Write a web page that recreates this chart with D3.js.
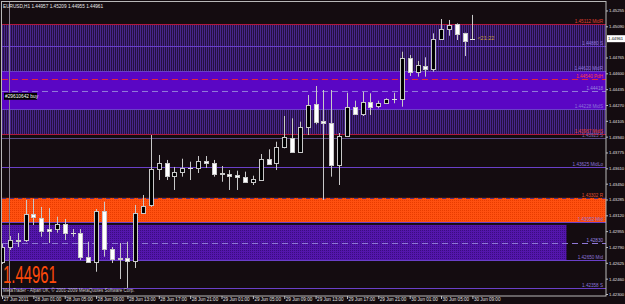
<!DOCTYPE html>
<html>
<head>
<meta charset="utf-8">
<script src="https://cdn.jsdelivr.net/npm/d3@7"></script>
<style>
html, body { margin: 0; padding: 0; background: #140c10; }
svg { display: block; }
text { font-family: "Liberation Sans", Arial, sans-serif; }
</style>
</head>
<body>
<div id="chart"></div>
<script>
// EURUSD H1 bars, 27 Jun 21:00 .. 30 Jun 09:00
var openPrices = [1.42637, 1.42793, 1.42863, 1.42863, 1.43134, 1.43092, 1.42977, 1.42981, 1.43030, 1.42936,
  1.42933, 1.42686, 1.42634, 1.43165, 1.42769, 1.42669, 1.42675, 1.42644, 1.43147, 1.43228,
  1.43600, 1.43662, 1.43530, 1.43571, 1.43616, 1.43616, 1.43689, 1.43662, 1.43555, 1.43551,
  1.43537, 1.43523, 1.43464, 1.43488, 1.43704, 1.43662, 1.43829, 1.43929, 1.43783, 1.44037,
  1.44277, 1.44103, 1.44079, 1.43644, 1.43947, 1.44252, 1.44173, 1.44298, 1.44259, 1.44288,
  1.44332, 1.44332, 1.44757, 1.44617, 1.44679, 1.44642, 1.44955, 1.45059, 1.45114, 1.45017,
  1.44957];
var highPrices = [1.42821, 1.42904, 1.42936, 1.43280, 1.43290, 1.43207, 1.43196, 1.43106, 1.43082, 1.42977,
  1.42977, 1.42845, 1.43186, 1.43262, 1.42790, 1.42832, 1.42845, 1.43228, 1.43332, 1.43957,
  1.43749, 1.43697, 1.43624, 1.43710, 1.43679, 1.43738, 1.43738, 1.43697, 1.43634, 1.43592,
  1.43585, 1.43575, 1.43533, 1.43759, 1.43808, 1.43887, 1.44155, 1.44131, 1.44096, 1.44374,
  1.44468, 1.44426, 1.44426, 1.43978, 1.44398, 1.44315, 1.44408, 1.44392, 1.44315, 1.44340,
  1.44398, 1.44825, 1.44791, 1.44728, 1.44767, 1.45017, 1.45166, 1.45156, 1.45121, 1.45023,
  1.45209];
var lowPrices = [1.42613, 1.42759, 1.42790, 1.42842, 1.43019, 1.42897, 1.42832, 1.42939, 1.42863, 1.42897,
  1.42654, 1.42623, 1.42532, 1.42689, 1.42623, 1.42456, 1.42363, 1.42571, 1.43134, 1.43207,
  1.43488, 1.43488, 1.43384, 1.43523, 1.43488, 1.43561, 1.43613, 1.43523, 1.43470, 1.43384,
  1.43384, 1.43457, 1.43436, 1.43481, 1.43652, 1.43592, 1.43818, 1.43773, 1.43777, 1.43957,
  1.44069, 1.43280, 1.43523, 1.43436, 1.43939, 1.44166, 1.44155, 1.44166, 1.44235, 1.44280,
  1.44288, 1.44252, 1.44572, 1.44565, 1.44565, 1.44617, 1.44947, 1.44992, 1.44947, 1.44780,
  1.44955];
var closePrices = [1.42793, 1.42863, 1.42856, 1.43134, 1.43106, 1.42957, 1.42957, 1.43030, 1.42936, 1.42940,
  1.42689, 1.42634, 1.43165, 1.42766, 1.42665, 1.42672, 1.42644, 1.43147, 1.43217, 1.43600,
  1.43662, 1.43530, 1.43575, 1.43616, 1.43613, 1.43689, 1.43662, 1.43548, 1.43558, 1.43530,
  1.43519, 1.43464, 1.43499, 1.43704, 1.43658, 1.43829, 1.43933, 1.43783, 1.44037, 1.44270,
  1.44096, 1.44085, 1.43644, 1.43947, 1.44252, 1.44176, 1.44298, 1.44252, 1.44288, 1.44332,
  1.44329, 1.44760, 1.44617, 1.44687, 1.44645, 1.44955, 1.45059, 1.45100, 1.45007, 1.44940,
  1.44961];

// time axis labels, one every 4 bars
var timeLabels = ['27 Jun 2011', '28 Jun 01:00', '28 Jun 05:00', '28 Jun 09:00', '28 Jun 13:00',
  '28 Jun 17:00', '28 Jun 21:00', '29 Jun 01:00', '29 Jun 05:00', '29 Jun 09:00', '29 Jun 13:00',
  '29 Jun 17:00', '29 Jun 21:00', '30 Jun 01:00', '30 Jun 05:00', '30 Jun 09:00'];

// price axis labels
var priceTicks = [1.45255, 1.45090, 1.44765, 1.44600, 1.44435, 1.44270, 1.44105, 1.43940, 1.43775,
  1.43610, 1.43450, 1.43285, 1.43120, 1.42955, 1.42790, 1.42625, 1.42460, 1.42300];

// horizontal levels (indicator lines)
var levelPrices = [1.45112, 1.44880, 1.44620, 1.44540, 1.44418, 1.44228, 1.43967, 1.43923,
  1.43625, 1.43302, 1.43052, 1.42830, 1.42650, 1.42358];
var levelNames = ['MidR', 'S', 'MidR', 'PdH', '', 'MidS', 'MidS', 'S', 'MidLo', 'R', 'Mid', '', 'Mid', 'S'];
var levelKinds = ['red', 'purple', 'purple', 'reddash', 'lavdash', 'purple', 'red', 'grey',
  'purple', 'topdash', 'purple', 'lavdash', 'purple', 'purple'];

// shaded zones (top price, bottom price, last bar or null = to the right edge)
var zoneTops = [1.45112, 1.44620, 1.44228, 1.43302, 1.43020];
var zoneBottoms = [1.44620, 1.44228, 1.43967, 1.43045, 1.42650];
var zoneEnds = [null, null, null, null, 72];
var zoneKinds = ['hatch', 'solid', 'hatch', 'orange', 'violet'];

var lastPrice = 1.44961;
var orderLabel = '#29610642 buy';
var header = 'EURUSD,H1  1.44957 1.45209 1.44955 1.44961';
var copyright = 'MetaTrader - Alpari UK, \u00a9 2001-2009 MetaQuotes Software Corp.';
var timer = '<21:22';

var W = 625, H = 304;
var plot = { left: 2, right: 606, top: 2, bottom: 296 };

var y = d3.scaleLinear().domain([1.42300, 1.45260]).range([294, 10]);
var x = d3.scaleLinear().domain([0, 60]).range([2, 472.4]);

var svg = d3.select('#chart').append('svg')
  .attr('width', W)
  .attr('height', H);

svg.append('rect')
  .attr('width', W)
  .attr('height', H)
  .attr('fill', '#140c10');

var defs = svg.append('defs');

// vertical hatch for the darker zones
var hatch = defs.append('pattern').attr('id', 'hatch')
  .attr('patternUnits', 'userSpaceOnUse').attr('width', 2).attr('height', 2);
hatch.append('rect').attr('width', 2).attr('height', 2).attr('fill', '#24103e');
hatch.append('rect').attr('width', 1).attr('height', 2).attr('fill', '#48268a');

// dotted texture for the orange and violet zones
var dotsO = defs.append('pattern').attr('id', 'dotsO')
  .attr('patternUnits', 'userSpaceOnUse').attr('width', 2).attr('height', 2);
dotsO.append('rect').attr('width', 2).attr('height', 2).attr('fill', '#ff5010');
dotsO.append('rect').attr('width', 1).attr('height', 1).attr('fill', '#e83c00');

var dotsV = defs.append('pattern').attr('id', 'dotsV')
  .attr('patternUnits', 'userSpaceOnUse').attr('width', 2).attr('height', 2);
dotsV.append('rect').attr('width', 2).attr('height', 2).attr('fill', '#5416ac');
dotsV.append('rect').attr('width', 1).attr('height', 1).attr('fill', '#3a0c80');

defs.append('clipPath').attr('id', 'plotClip')
  .append('rect')
  .attr('x', plot.left).attr('y', plot.top)
  .attr('width', plot.right - plot.left).attr('height', plot.bottom - plot.top);

var main = svg.append('g').attr('clip-path', 'url(#plotClip)');

// Zones
var zoneFill = { hatch: 'url(#hatch)', solid: '#5a06c4', orange: 'url(#dotsO)', violet: 'url(#dotsV)' };
zoneTops.forEach(function(top, i) {
  var xEnd = zoneEnds[i] === null ? plot.right : x(zoneEnds[i]);
  main.append('rect')
    .attr('x', plot.left)
    .attr('y', y(top))
    .attr('width', xEnd - plot.left)
    .attr('height', y(zoneBottoms[i]) - y(top))
    .attr('fill', zoneFill[zoneKinds[i]]);
});

// Levels
var levelStyle = {
  red: { stroke: '#b0183c', dash: null, text: '#e04030' },
  purple: { stroke: '#6a40c8', dash: null, text: '#8c74d8' },
  grey: { stroke: '#5a4a86', dash: null, text: '#7c6cb0' },
  reddash: { stroke: '#e0283c', dash: '6,4', text: '#ff4040' },
  lavdash: { stroke: '#9078d8', dash: '6,4', text: '#9c88e0' },
  topdash: { stroke: '#503080', dash: '4,4', text: '#e05030' }
};
levelPrices.forEach(function(p, i) {
  var st = levelStyle[levelKinds[i]];
  main.append('line')
    .attr('x1', plot.left).attr('x2', plot.right)
    .attr('y1', Math.round(y(p)) + 0.5).attr('y2', Math.round(y(p)) + 0.5)
    .attr('stroke', st.stroke)
    .attr('stroke-width', 1)
    .attr('stroke-dasharray', st.dash);
  main.append('text')
    .attr('x', plot.right - 3)
    .attr('y', Math.round(y(p)) - 1)
    .attr('text-anchor', 'end')
    .attr('font-size', 4.6)
    .attr('fill', st.text)
    .text(p.toFixed(5) + '  ' + levelNames[i]);
});

// vertical line object
main.append('line')
  .attr('x1', Math.round(x(1)) - 0.5).attr('x2', Math.round(x(1)) - 0.5)
  .attr('y1', plot.top).attr('y2', plot.bottom)
  .attr('stroke', '#8a8490').attr('stroke-width', 1);

// Candles
var bars = main.append('g');
closePrices.forEach(function(c, i) {
  var o = openPrices[i];
  var cx = Math.round(x(i)) + 0.5;
  bars.append('line')
    .attr('x1', cx).attr('x2', cx)
    .attr('y1', y(highPrices[i])).attr('y2', y(lowPrices[i]))
    .attr('stroke', '#c8c8c8').attr('stroke-width', 1);
  var top = Math.round(y(Math.max(o, c))), bot = Math.round(y(Math.min(o, c)));
  if (bot - top < 1) {
    bars.append('line')
      .attr('x1', cx - 2.5).attr('x2', cx + 2.5)
      .attr('y1', top + 0.5).attr('y2', top + 0.5)
      .attr('stroke', '#e0e0e0').attr('stroke-width', 1);
  } else {
    bars.append('rect')
      .attr('x', cx - 2).attr('y', top + 0.5)
      .attr('width', 4).attr('height', bot - top)
      .attr('fill', c > o ? '#000000' : '#ffffff')
      .attr('stroke', '#c8c8c8').attr('stroke-width', 1);
  }
});

// order label
main.append('rect')
  .attr('x', 4).attr('y', y(1.44418) + 2)
  .attr('width', 33).attr('height', 7)
  .attr('fill', '#000000');
main.append('text')
  .attr('x', 5).attr('y', y(1.44418) + 7.5)
  .attr('font-size', 4.8)
  .attr('fill', '#ffffff')
  .text(orderLabel);

// bar timer
main.append('text')
  .attr('x', x(60) + 5).attr('y', y(lastPrice) + 1)
  .attr('font-size', 5.5)
  .attr('fill', '#c8a040')
  .text(timer);

// big price
main.append('text')
  .attr('x', 3).attr('y', 283)
  .attr('font-size', 24)
  .attr('fill', '#ff4a0a')
  .attr('transform', 'translate(3,283) scale(0.62,1) translate(-3,-283)')
  .text(lastPrice.toFixed(5));

// header and copyright
svg.append('text')
  .attr('x', 3).attr('y', 8)
  .attr('font-size', 4.7)
  .attr('fill', '#e8e8e8')
  .text(header);
svg.append('text')
  .attr('x', 3).attr('y', 292)
  .attr('font-size', 4.5)
  .attr('fill', '#c8c8c8')
  .text(copyright);

// frame
svg.append('rect')
  .attr('x', 1.5).attr('y', 1.5)
  .attr('width', plot.right - 1.5).attr('height', plot.bottom - 1.5)
  .attr('fill', 'none')
  .attr('stroke', '#b8b8b8').attr('stroke-width', 1);

// Price axis
var yAxis = svg.append('g')
  .attr('transform', 'translate(' + plot.right + ',0)')
  .call(d3.axisRight(y).tickValues(priceTicks).tickSize(2).tickPadding(1)
    .tickFormat(d3.format('.5f')));
yAxis.select('.domain').remove();
yAxis.selectAll('line').attr('stroke', '#c0c0c0');
yAxis.selectAll('text').attr('fill', '#e0e0e0').attr('font-size', 4.2)
  .attr('font-family', '"Liberation Sans", Arial, sans-serif');

// current price box
svg.append('rect')
  .attr('x', plot.right + 1).attr('y', y(lastPrice) - 3.5)
  .attr('width', 18).attr('height', 7)
  .attr('fill', '#ffffff');
svg.append('text')
  .attr('x', plot.right + 2).attr('y', y(lastPrice) + 1.8)
  .attr('font-size', 4.2)
  .attr('fill', '#000000')
  .text(lastPrice.toFixed(5));

// Time axis
var xAxis = svg.append('g')
  .attr('transform', 'translate(0,' + plot.bottom + ')')
  .call(d3.axisBottom(x).tickValues(timeLabels.map(function(d, i) { return i * 4; }))
    .tickSize(3).tickPadding(-1)
    .tickFormat(function(d) { return timeLabels[d / 4]; }));
xAxis.select('.domain').remove();
xAxis.selectAll('line').attr('stroke', '#c0c0c0');
xAxis.selectAll('text')
  .attr('text-anchor', 'start')
  .attr('dx', 1)
  .attr('fill', '#e0e0e0').attr('font-size', 4.6)
  .attr('font-family', '"Liberation Sans", Arial, sans-serif');
</script>
</body>
</html>
